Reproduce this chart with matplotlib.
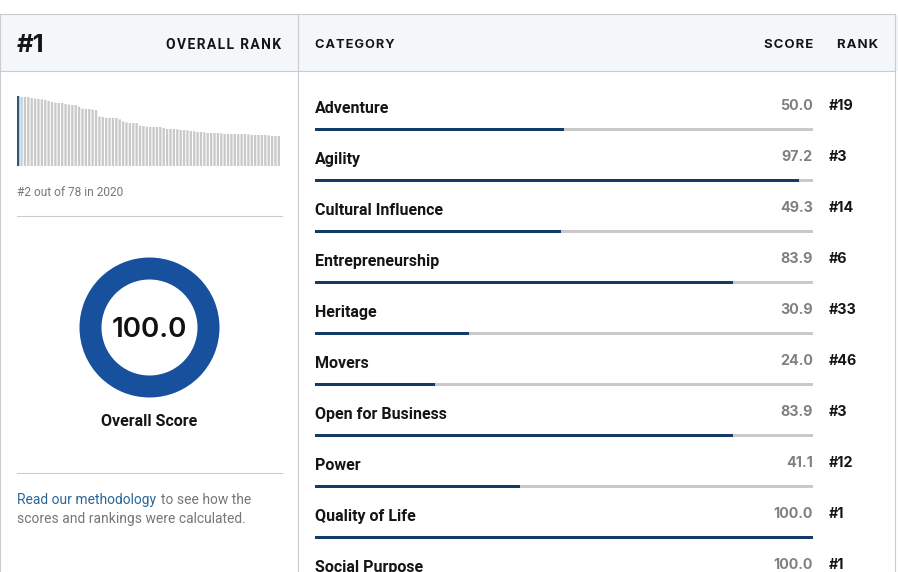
import matplotlib
matplotlib.use("Agg")
from matplotlib import pyplot as plt

W, H = 898, 572

categories = ["Adventure", "Agility", "Cultural Influence", "Entrepreneurship", "Heritage",
              "Movers", "Open for Business", "Power", "Quality of Life", "Social Purpose"]
scores = [50.0, 97.2, 49.3, 83.9, 30.9, 24.0, 83.9, 41.1, 100.0, 100.0]
ranks = ["#19", "#3", "#14", "#6", "#33", "#46", "#3", "#12", "#1", "#1"]

# overall scores of all 78 countries
overall = [100, 98.6, 98.6, 98.6, 97.1, 96.2, 95.7, 95.2, 94.3, 92.9, 91.4, 90.5, 90, 90, 88.6, 87.6,
           87.1, 87.1, 84.8, 81.9, 81.4, 81.4, 80.5, 80, 70.5, 70, 69, 68.6, 68.6, 68.6, 66.7, 63.8,
           62.4, 61.4, 61.4, 61.4, 57.6, 57.1, 56.2, 55.7, 55.7, 55.7, 55.7, 54.3, 52.9, 52.9, 52.9,
           52.4, 51.4, 51.4, 51, 50, 49.5, 48.6, 48.6, 48.1, 47.1, 47.1, 47.1, 47.1, 46.7, 45.7, 45.7,
           45.7, 45.7, 45.7, 45.7, 45.7, 45.2, 44.3, 44.3, 44.3, 44.3, 44.3, 43.8, 42.9, 42.9, 42.9]

NAVY = "#143a66"
TRACK = "#c9c9c9"
LINE = "#cccccc"
ROBOTO = ["Roboto", "DejaVu Sans"]
INTER = ["Inter", "DejaVu Sans"]

ROW0 = 129.5
ROW_H = 51


def px_axes(fig, left, top, right, bottom, **kw):
    return fig.add_axes([left / W, 1 - bottom / H, (right - left) / W, (bottom - top) / H], **kw)


def spaced(s):
    # no letter spacing in matplotlib, hair spaces get close
    return "\u200a".join(s)


fig = plt.figure(figsize=(W / 100, H / 100), dpi=100, facecolor="white")

# page frame, works in pixels
bg = px_axes(fig, 0, 0, W, H)
bg.set_xlim(0, W)
bg.set_ylim(H, 0)
bg.axis("off")
bg.axhspan(15, 71, color="#f4f7fa", lw=0)
bg.plot([0, 895], [14, 14], color=LINE, lw=0.8)
bg.plot([0, 895], [71, 71], color=LINE, lw=0.8)
for x in [0, 298, 895]:
    bg.plot([x, x], [14, H], color=LINE, lw=0.8)
for y in [216, 473]:
    bg.plot([17, 282], [y, y], color=LINE, lw=0.8)

bg.text(17, 46, "#1", family=INTER, fontsize=18.5, fontweight="bold", color="#151515", va="center")
bg.text(281.5, 45, spaced("OVERALL RANK"), family=ROBOTO, fontsize=10, fontweight="bold",
        color="#151515", ha="right", va="center")
bg.text(315, 44.5, spaced("CATEGORY"), family=INTER, fontsize=9.2, fontweight="bold",
        color="#151515", va="center")
bg.text(813, 44.5, spaced("SCORE"), family=INTER, fontsize=9.5, fontweight="bold",
        color="#151515", ha="right", va="center")
bg.text(878, 44.5, spaced("RANK"), family=INTER, fontsize=9.5, fontweight="bold",
        color="#151515", ha="right", va="center")

bg.text(17, 192, "#2 out of 78 in 2020", family=ROBOTO, fontsize=8.6, color="#777777", va="center")
bg.text(149, 421.5, "Overall Score", family=ROBOTO, fontsize=11.5, fontweight="bold",
        color="#151515", ha="center", va="center")
bg.text(17, 500, "Read our methodology", family=ROBOTO, fontsize=10, color="#2a6799", va="center")
bg.text(161, 500, "to see how the", family=ROBOTO, fontsize=10, color="#777777", va="center")
bg.text(17, 519, "scores and rankings were calculated.", family=ROBOTO, fontsize=10,
        color="#777777", va="center")

# strip of all the countries
strip = px_axes(fig, 17, 96, 280, 166)
colors = ["#2b5a78", "#bfd2dd"] + [TRACK] * (len(overall) - 2)
strip.bar(range(len(overall)), overall, width=0.68, color=colors, lw=0, snap=False)
strip.set_xlim(-0.34, len(overall) - 1 + 0.34)
strip.set_ylim(0, 100)
strip.axis("off")

# donut
donut = px_axes(fig, 79.5, 257.5, 219.5, 397.5)
donut.pie([100], colors=["#17509c"], radius=1, wedgeprops=dict(width=22 / 70, lw=0), startangle=90)
donut.set_xlim(-1, 1)
donut.set_ylim(-1, 1)
donut.text(0, -0.03, "100.0", family=INTER, fontsize=20, fontweight="semibold", color="#111111",
           ha="center", va="center")

# progress bars, one row per category
rows = px_axes(fig, 315, 72, 813, H)
rows.set_xlim(0, 100)
rows.set_ylim((H - ROW0) / ROW_H, (72 - ROW0) / ROW_H)
rows.axis("off")
y_pos = range(len(categories))
rows.barh(y_pos, [100] * len(categories), height=3.2 / ROW_H, color=TRACK, lw=0)
rows.barh(y_pos, scores, height=3.2 / ROW_H, color=NAVY, lw=0)

for i, (cat, score, rank) in enumerate(zip(categories, scores, ranks)):
    y = ROW0 + i * ROW_H
    bg.text(315, y - 21, cat, family=ROBOTO, fontsize=11.5, fontweight="bold", color="#151515",
            va="center")
    bg.text(813, y - 23.5, f"{score:.1f}", family=INTER, fontsize=10.3, fontweight="bold",
            color="#808080", ha="right", va="center")
    bg.text(829, y - 23.5, rank, family=INTER, fontsize=10.3, fontweight="bold", color="#151515",
            va="center")

fig.savefig("out.png", dpi=100)
